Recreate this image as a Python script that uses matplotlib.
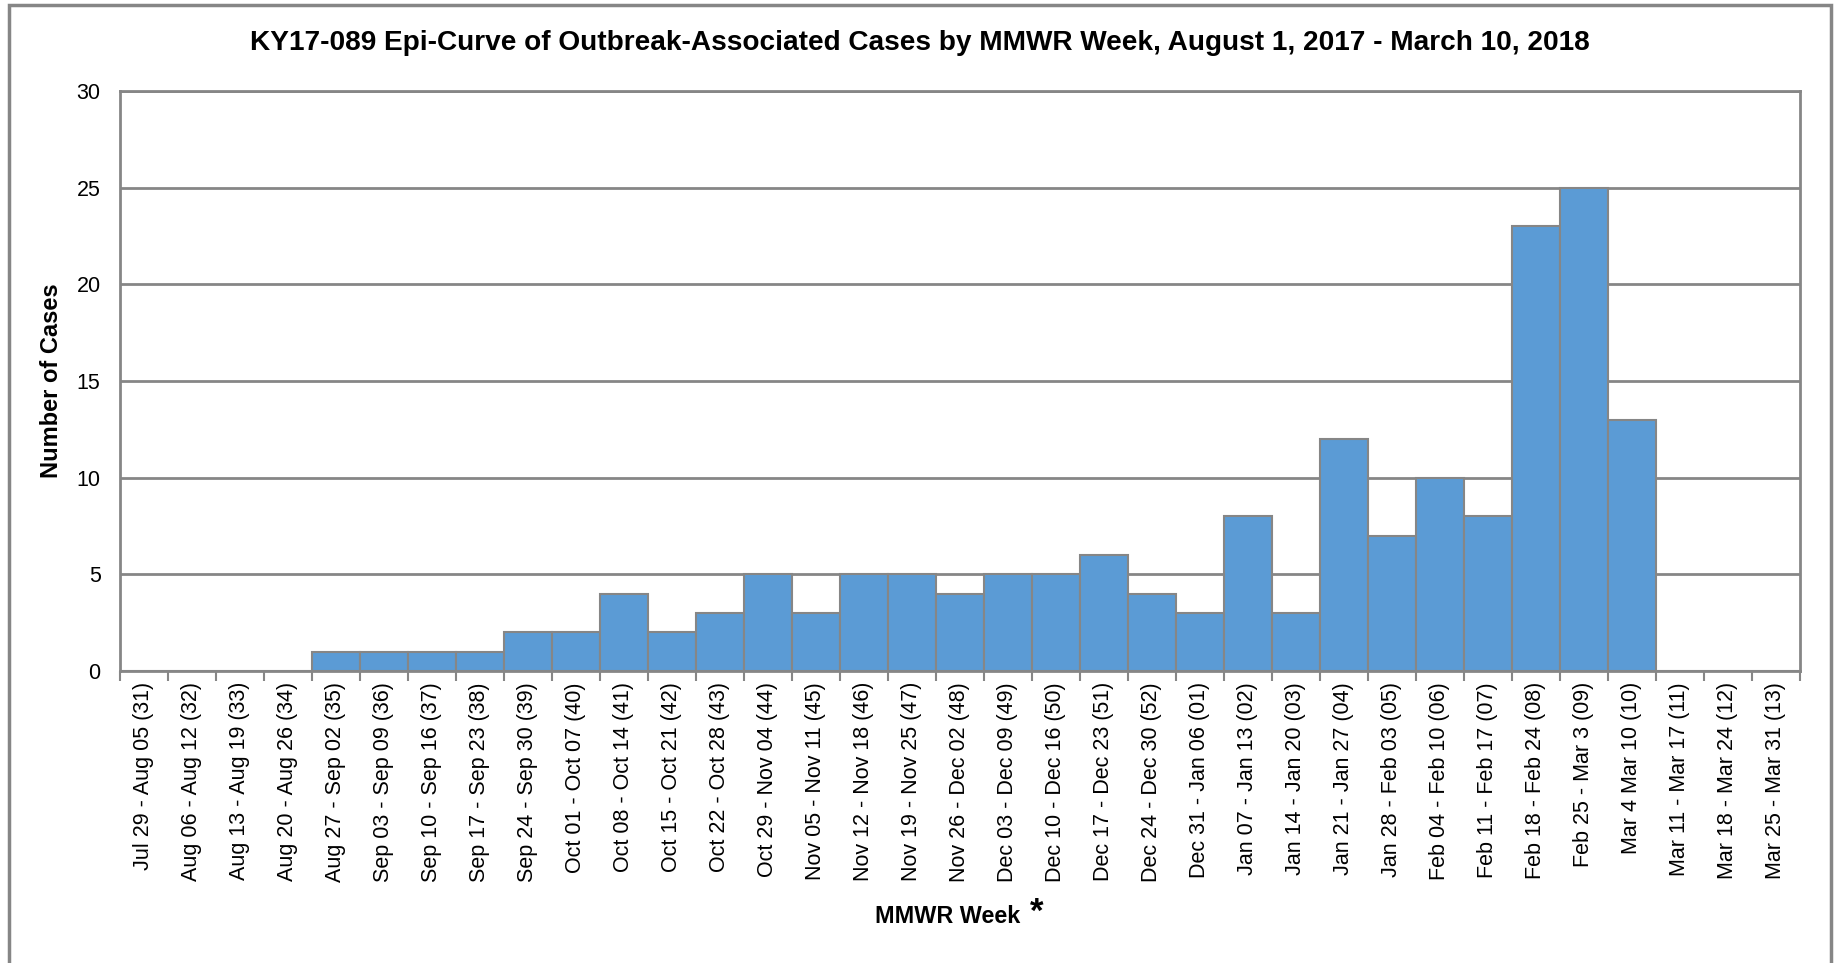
import matplotlib.pyplot as plt
from matplotlib.patches import Rectangle
import numpy as np

plt.rcParams['font.family'] = ['Liberation Sans', 'DejaVu Sans']

# MMWR week labels and outbreak-associated case counts
week_labels = [
    "Jul 29 - Aug 05 (31)", "Aug 06 - Aug 12 (32)", "Aug 13 - Aug 19 (33)",
    "Aug 20 - Aug 26 (34)", "Aug 27 - Sep 02 (35)", "Sep 03 - Sep 09 (36)",
    "Sep 10 - Sep 16 (37)", "Sep 17 - Sep 23 (38)", "Sep 24 - Sep 30 (39)",
    "Oct 01 - Oct 07 (40)", "Oct 08 - Oct 14 (41)", "Oct 15 - Oct 21 (42)",
    "Oct 22 - Oct 28 (43)", "Oct 29 - Nov 04 (44)", "Nov 05 - Nov 11 (45)",
    "Nov 12 - Nov 18 (46)", "Nov 19 - Nov 25 (47)", "Nov 26 - Dec 02 (48)",
    "Dec 03 - Dec 09 (49)", "Dec 10 - Dec 16 (50)", "Dec 17 - Dec 23 (51)",
    "Dec 24 - Dec 30 (52)", "Dec 31 - Jan 06 (01)", "Jan 07 - Jan 13 (02)",
    "Jan 14 - Jan 20 (03)", "Jan 21 - Jan 27 (04)", "Jan 28 - Feb 03 (05)",
    "Feb 04 - Feb 10 (06)", "Feb 11 - Feb 17 (07)", "Feb 18 - Feb 24 (08)",
    "Feb 25 - Mar 3 (09)", "Mar 4 Mar 10 (10)", "Mar 11 - Mar 17 (11)",
    "Mar 18 - Mar 24 (12)", "Mar 25 - Mar 31 (13)",
]
cases = [0, 0, 0, 0, 1, 1, 1, 1, 2, 2, 4, 2, 3, 5, 3, 5, 5, 4, 5, 5, 6, 4,
         3, 8, 3, 12, 7, 10, 8, 23, 25, 13, 0, 0, 0]
y_ticks = [0, 5, 10, 15, 20, 25, 30]

GRAY = "#868686"
BLUE = "#5B9BD5"

fig = plt.figure(figsize=(18.35, 9.63), dpi=100)
ax = fig.add_axes([120 / 1835, 1 - 671 / 963, 1680 / 1835, 580 / 963])

x = np.arange(len(cases))
ax.bar(x, cases, width=1.0, color=BLUE, edgecolor=GRAY, linewidth=1.5, zorder=3)

ax.set_xlim(-0.5, len(cases) - 0.5)
ax.set_ylim(0, 30)
ax.set_yticks(y_ticks)
ax.set_yticklabels([str(v) for v in y_ticks], fontsize=15.5)
ax.tick_params(axis="y", length=0, pad=14)

ax.set_xticks(x)
ax.set_xticklabels(week_labels, rotation=90, fontsize=15.5)
ax.set_xticks(np.arange(len(cases) + 1) - 0.5, minor=True)
ax.tick_params(axis="x", which="major", length=0, pad=8)
ax.tick_params(axis="x", which="minor", length=7, width=1.5, color=GRAY)

ax.grid(axis="y", color=GRAY, linewidth=2, zorder=0)
for side in ["left", "right", "bottom", "top"]:
    ax.spines[side].set_color(GRAY)
    ax.spines[side].set_linewidth(2)

ax.set_ylabel("Number of Cases", fontsize=17, fontweight="bold", labelpad=10)

fig.text(920 / 1835, 1 - 43 / 963, "KY17-089 Epi-Curve of Outbreak-Associated Cases by MMWR Week, "
         "August 1, 2017 - March 10, 2018", ha="center", va="center",
         fontsize=20.2, fontweight="bold")
fig.text(948 / 1835, 1 - 916 / 963, "MMWR Week", ha="center", va="center",
         fontsize=16.8, fontweight="bold")
fig.text(1037 / 1835, 1 - 912 / 963, "*", ha="center", va="center",
         fontsize=25, fontweight="bold")

# outer chart border (no bottom edge visible)
fig.patches.append(Rectangle((9 / 1835, -0.05), 1822 / 1835, 1.05 - 5 / 963,
                             transform=fig.transFigure, fill=False,
                             edgecolor=GRAY, linewidth=2.5))

fig.savefig("out.png", dpi=100)
